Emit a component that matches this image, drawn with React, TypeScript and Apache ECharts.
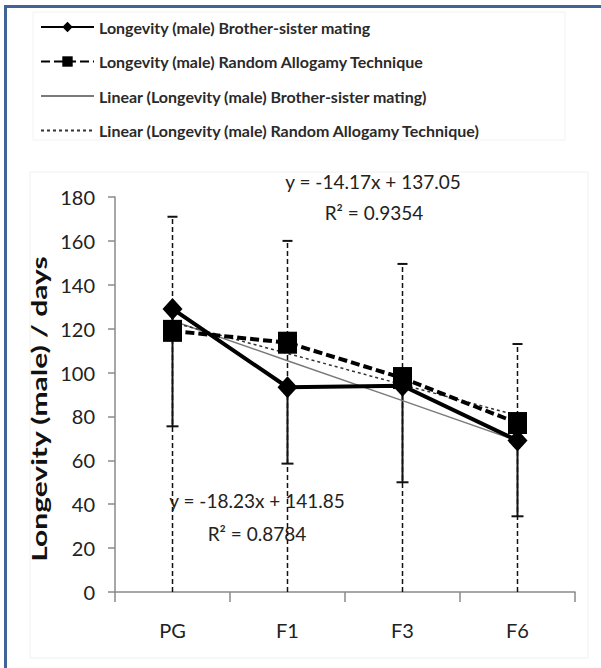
import React, { useEffect, useRef } from "react";
import * as echarts from "echarts";

const categories = ["PG", "F1", "F3", "F6"];
const bsValues = [129, 93.3, 94, 69];
const ratValues = [119, 113.6, 97.5, 77];
const bsLower = [75.5, 58.5, 50, 34.5];
const ratUpper = [171, 160, 149.5, 113];
const ratLower = [0, 0, 0, 0];
const bsTrend = [123.6, 105.4, 87.2, 68.9];
const ratTrend = [122.9, 108.7, 94.5, 80.4];
const yTicks = { min: 0, max: 180, interval: 20 };

const seriesNames = [
  "Longevity (male) Brother-sister mating",
  "Longevity (male) Random Allogamy Technique",
  "Linear (Longevity (male) Brother-sister mating)",
  "Linear (Longevity (male) Random Allogamy Technique)",
];

const eqRat = ["y = -14.17x + 137.05", "R² = 0.9354"];
const eqBs = ["y = -18.23x + 141.85", "R² = 0.8784"];

const FONT = "Lato, 'Open Sans', sans-serif";

export default function App() {
  const ref = useRef<HTMLDivElement>(null);
  useEffect(() => {
    if (!ref.current) return;
    const chart = echarts.init(ref.current, null, { renderer: "svg" });

    const errRenderer = (dashed: boolean, capAtTop: boolean, capAtBottom: boolean) =>
      (params: any, api: any) => {
        const idx = api.value(0);
        const lo = api.coord([idx, api.value(1)]);
        const hi = api.coord([idx, api.value(2)]);
        const children: any[] = [
          {
            type: "line",
            shape: { x1: lo[0], y1: lo[1], x2: hi[0], y2: hi[1] },
            style: { stroke: "#111", lineWidth: dashed ? 1.5 : 2, lineDash: dashed ? [5, 3] : null },
          },
        ];
        if (capAtTop) {
          children.push({
            type: "line",
            shape: { x1: hi[0] - 5, y1: hi[1], x2: hi[0] + 5, y2: hi[1] },
            style: { stroke: "#111", lineWidth: 2 },
          });
        }
        if (capAtBottom) {
          children.push({
            type: "line",
            shape: { x1: lo[0] - 6, y1: lo[1], x2: lo[0] + 6, y2: lo[1] },
            style: { stroke: "#111", lineWidth: 2 },
          });
        }
        return { type: "group", children };
      };

    chart.setOption({
      animation: false,
      backgroundColor: "#ffffff",
      textStyle: { fontFamily: FONT },
      legend: {
        orient: "vertical",
        left: 35,
        top: 14,
        itemWidth: 53,
        itemHeight: 13,
        itemGap: 18.5,
        textStyle: { fontSize: 16, fontWeight: "bold", color: "#2a2a2a", fontFamily: FONT },
        data: [
          { name: seriesNames[0] },
          { name: seriesNames[1] },
          { name: seriesNames[2], itemStyle: { opacity: 0 } },
          { name: seriesNames[3], itemStyle: { opacity: 0 } },
        ],
      },
      grid: { left: 115, right: 26, top: 197, bottom: 76 },
      xAxis: {
        type: "category",
        data: categories,
        boundaryGap: true,
        axisLine: { lineStyle: { color: "#8a8a8a", width: 1.5 } },
        axisTick: { show: true, length: 10, alignWithLabel: false, lineStyle: { color: "#8a8a8a", width: 1.5 } },
        axisLabel: { fontSize: 20, color: "#222", margin: 28, fontFamily: FONT },
        splitLine: { show: false },
      },
      yAxis: {
        type: "value",
        min: yTicks.min,
        max: yTicks.max,
        interval: yTicks.interval,
        axisLine: { show: true, lineStyle: { color: "#8a8a8a", width: 1.5 } },
        axisTick: { show: true, length: 7, lineStyle: { color: "#8a8a8a", width: 1.5 } },
        axisLabel: { fontSize: 20, color: "#222", margin: 20, fontFamily: FONT },
        splitLine: { show: false },
      },
      graphic: [
        { type: "rect", shape: { x: 4, y: 5, width: 3, height: 663 }, style: { fill: "#416496" }, z: 100 },
        { type: "rect", shape: { x: 4, y: 5, width: 597, height: 3 }, style: { fill: "#416496" }, z: 100 },
        { type: "rect", shape: { x: 33, y: 12, width: 532, height: 128 }, style: { fill: "none", stroke: "#f2f2f2", lineWidth: 1 }, z: -1 },
        { type: "rect", shape: { x: 30, y: 172, width: 558, height: 486 }, style: { fill: "none", stroke: "#f0f0f0", lineWidth: 1 }, z: -1 },
        {
          type: "text",
          x: 39,
          y: 409,
          rotation: Math.PI / 2,
          scaleX: 1.5,
          scaleY: 1,
          style: { text: "Longevity (male) / days", fontSize: 20, fontWeight: "bold", fill: "#111", align: "center", verticalAlign: "middle", fontFamily: FONT },
        },
        { type: "text", x: 373, y: 181, style: { text: eqRat[0], fontSize: 19, fill: "#222", align: "center", verticalAlign: "middle", fontFamily: FONT }, z: 50 },
        { type: "text", x: 374, y: 212, style: { text: eqRat[1], fontSize: 19, fill: "#222", align: "center", verticalAlign: "middle", fontFamily: FONT }, z: 50 },
        { type: "text", x: 257, y: 500, style: { text: eqBs[0], fontSize: 19, fill: "#222", align: "center", verticalAlign: "middle", fontFamily: FONT }, z: 50 },
        { type: "text", x: 257, y: 533, style: { text: eqBs[1], fontSize: 19, fill: "#222", align: "center", verticalAlign: "middle", fontFamily: FONT }, z: 50 },
      ],
      series: [
        {
          type: "custom",
          name: "ratErr",
          renderItem: errRenderer(true, true, false),
          data: categories.map((_, i) => [i, ratLower[i], ratUpper[i]]),
          encode: { x: 0, y: [1, 2] },
          z: 1,
          silent: true,
        },
        {
          type: "custom",
          name: "bsErr",
          renderItem: errRenderer(false, false, true),
          data: categories.map((_, i) => [i, bsLower[i], bsValues[i]]),
          encode: { x: 0, y: [1, 2] },
          z: 2,
          silent: true,
        },
        {
          name: seriesNames[2],
          type: "line",
          data: bsTrend,
          symbol: "none",
          lineStyle: { color: "#7a7a7a", width: 1.5, type: "solid" },
          itemStyle: { color: "#7a7a7a" },
          z: 3,
        },
        {
          name: seriesNames[3],
          type: "line",
          data: ratTrend,
          symbol: "none",
          lineStyle: { color: "#333", width: 1.5, type: [3, 3] },
          itemStyle: { color: "#333" },
          z: 3,
        },
        {
          name: seriesNames[1],
          type: "line",
          data: ratValues,
          symbol: "rect",
          symbolSize: [19, 22],
          lineStyle: { color: "#000", width: 4, type: [9, 4] },
          itemStyle: { color: "#000" },
          z: 4,
        },
        {
          name: seriesNames[0],
          type: "line",
          data: bsValues,
          symbol: "diamond",
          symbolSize: [20, 22],
          lineStyle: { color: "#000", width: 4, type: "solid" },
          itemStyle: { color: "#000" },
          z: 5,
        },
      ],
    });
    return () => chart.dispose();
  }, []);
  return (
    <div
      ref={ref}
      style={{ position: "absolute", left: 0, top: 0, width: 601, height: 668 }}
    />
  );
}
